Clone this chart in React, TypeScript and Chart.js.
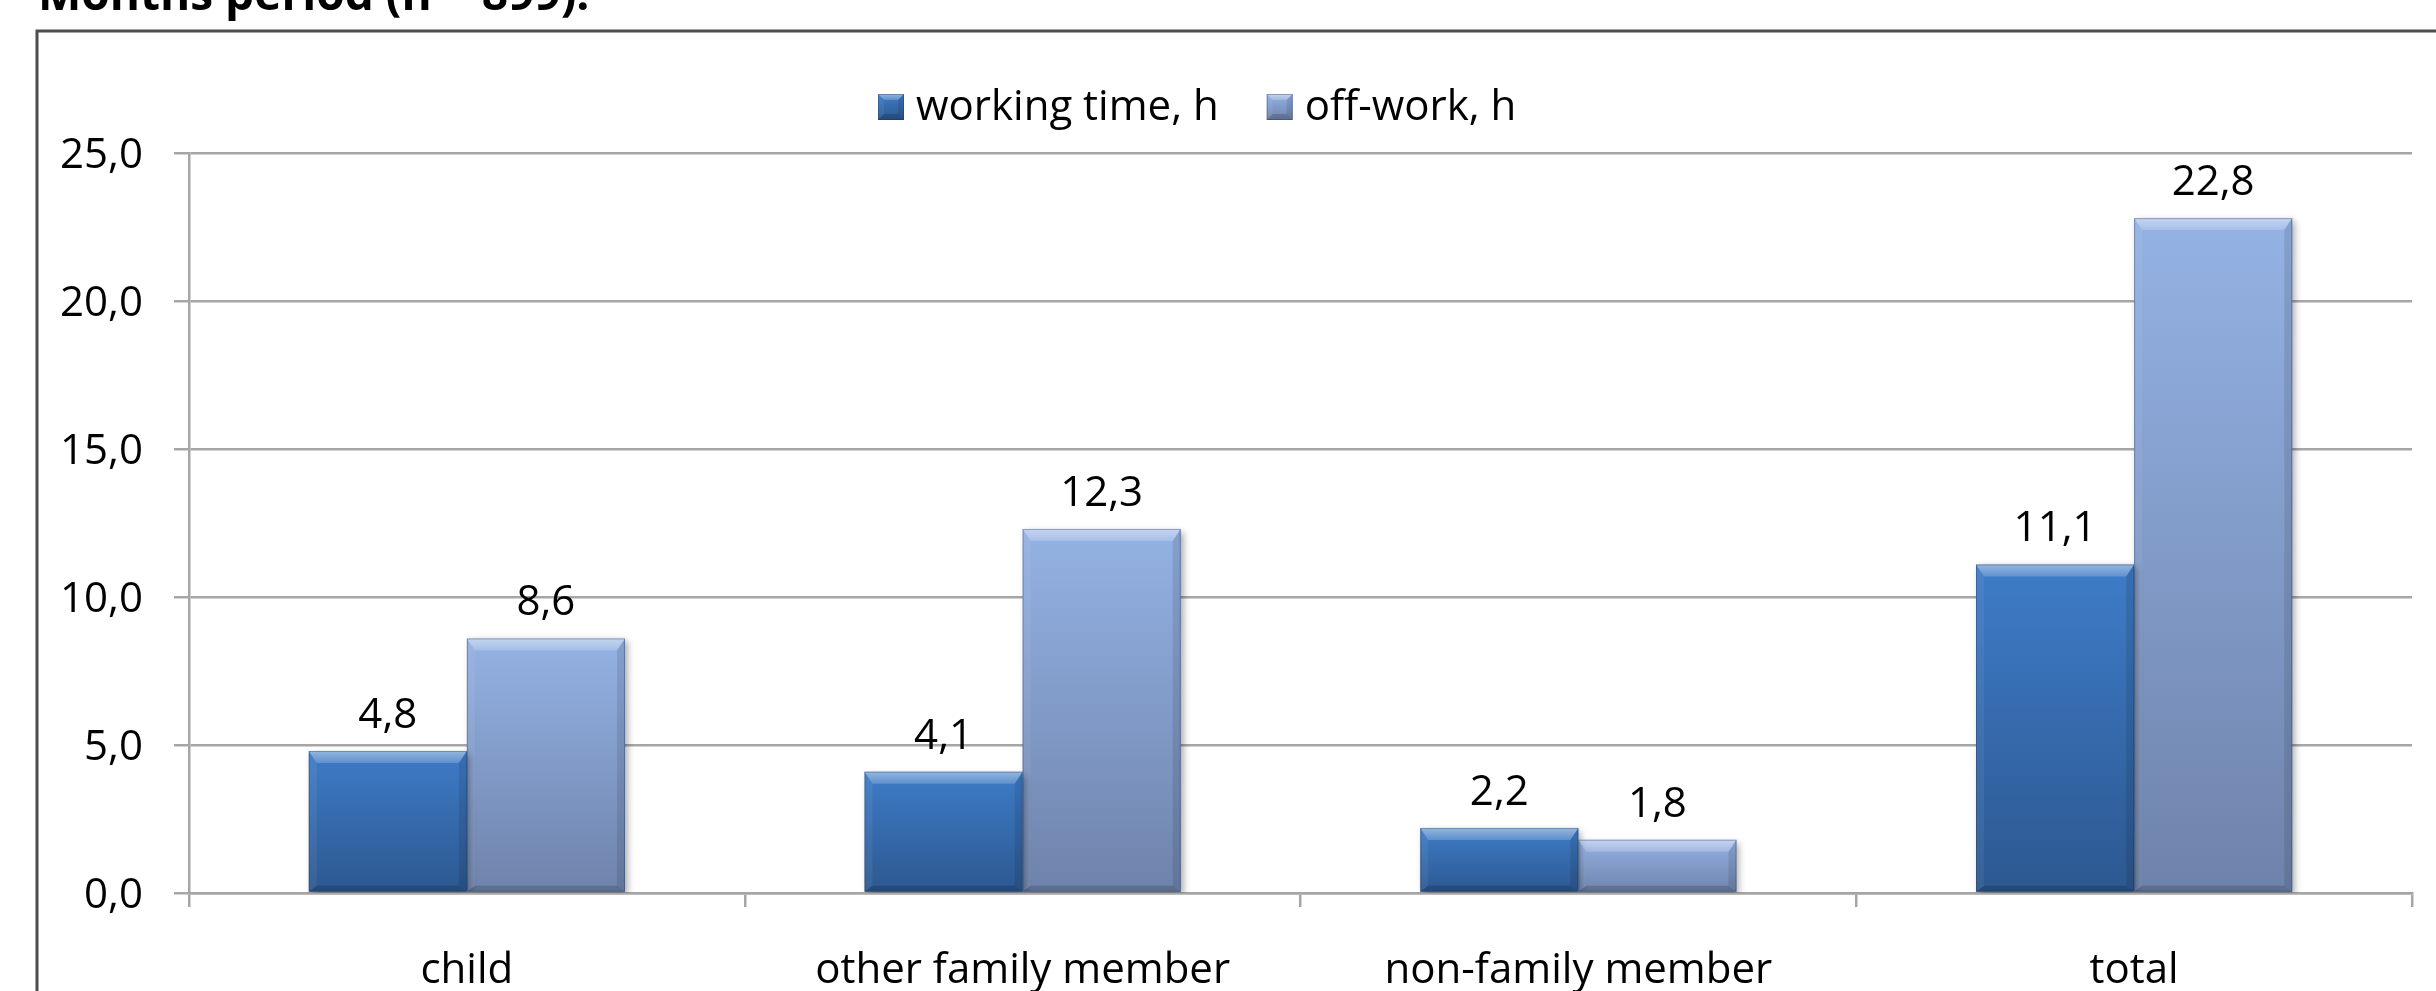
import React, { useEffect, useRef } from "react";
import { Chart, registerables } from "chart.js";

Chart.register(...registerables);

// ---- data ----
const categories = ["child", "other family member", "non-family member", "total"];
const workingTime = [4.8, 4.1, 2.2, 11.1];
const offWork = [8.6, 12.3, 1.8, 22.8];
const seriesNames = ["working time, h", "off-work, h"];
const yTickValues = [0, 5, 10, 15, 20, 25];
const titleText = "Months period (n = 899).";

// ---- styling ----
const W = 2436;
const H = 991;
const FONT = "'Open Sans', 'DejaVu Sans', sans-serif";
const GRID = "#a6a6a6";

const palettes = [
  { top: "#3e7cc8", bottom: "#2c5890" },
  { top: "#94b2e4", bottom: "#6e83ab" },
];

const fmt = (v: number) => v.toFixed(1).replace(".", ",");

type Pt = [number, number];
function poly(ctx: CanvasRenderingContext2D, pts: Pt[], fill: string | CanvasGradient) {
  ctx.beginPath();
  ctx.moveTo(pts[0][0], pts[0][1]);
  for (let i = 1; i < pts.length; i++) ctx.lineTo(pts[i][0], pts[i][1]);
  ctx.closePath();
  ctx.fillStyle = fill;
  ctx.fill();
}

// bevelled edges over a bar rectangle
function drawBevel(
  ctx: CanvasRenderingContext2D,
  l: number,
  t: number,
  r: number,
  b: number,
  sTop: number,
  sSide: number,
  sBottom: number
) {
  const h = b - t;
  const st = Math.min(sTop, h / 2);
  const sb = Math.min(sBottom, h / 3);
  const ss = Math.min(sSide, (r - l) / 2);
  const topGrad = ctx.createLinearGradient(0, t, 0, t + st);
  topGrad.addColorStop(0, "rgba(255,255,255,0.45)");
  topGrad.addColorStop(1, "rgba(255,255,255,0.18)");
  poly(ctx, [[l, t], [r, t], [r - ss, t + st], [l + ss, t + st]], topGrad);
  poly(ctx, [[l, t], [l + ss, t + st], [l + ss, b - sb], [l, b]], "rgba(255,255,255,0.06)");
  poly(ctx, [[r, t], [r - ss, t + st], [r - ss, b - sb], [r, b]], "rgba(0,0,0,0.10)");
  poly(ctx, [[l, b], [r, b], [r - ss, b - sb], [l + ss, b - sb]], "rgba(0,0,0,0.16)");
  ctx.strokeStyle = "rgba(30,50,90,0.35)";
  ctx.lineWidth = 1;
  ctx.strokeRect(l + 0.5, t + 0.5, r - l - 1, b - t - 1);
}

const barFill = (p: { top: string; bottom: string }) => (c: any) => {
  const chart = c.chart;
  const { chartArea, scales } = chart;
  if (!chartArea || !scales.y || c.type !== "data") return p.top;
  const v = c.raw as number;
  const y0 = scales.y.getPixelForValue(0);
  const y1 = scales.y.getPixelForValue(v);
  const g = chart.ctx.createLinearGradient(0, y1, 0, y0);
  g.addColorStop(0, p.top);
  g.addColorStop(1, p.bottom);
  return g;
};

// frame, title, bar shadows, bevels, value labels and legend
const decorations = {
  id: "decorations",
  beforeDraw(chart: any) {
    const ctx: CanvasRenderingContext2D = chart.ctx;
    ctx.save();
    ctx.fillStyle = "#ffffff";
    ctx.fillRect(0, 0, W, H);
    // outer frame (continues past the right and bottom edges)
    ctx.strokeStyle = "#4d4d4d";
    ctx.lineWidth = 3;
    ctx.beginPath();
    ctx.moveTo(37, H + 10);
    ctx.lineTo(37, 31);
    ctx.lineTo(W + 10, 31);
    ctx.stroke();
    // heading line above the frame
    ctx.fillStyle = "#000";
    ctx.font = `bold 46px ${FONT}`;
    ctx.textBaseline = "alphabetic";
    ctx.textAlign = "left";
    ctx.fillText(titleText, 38, 10);
    ctx.restore();
  },
  beforeDatasetsDraw(chart: any) {
    const ctx: CanvasRenderingContext2D = chart.ctx;
    ctx.save();
    ctx.shadowColor = "rgba(0,0,0,0.35)";
    ctx.shadowBlur = 7;
    ctx.shadowOffsetX = 3;
    ctx.shadowOffsetY = 3;
  },
  afterDatasetsDraw(chart: any) {
    const ctx: CanvasRenderingContext2D = chart.ctx;
    ctx.restore();
    ctx.save();
    chart.data.datasets.forEach((ds: any, di: number) => {
      const meta = chart.getDatasetMeta(di);
      meta.data.forEach((el: any, i: number) => {
        const { x, y, base, width } = el.getProps(["x", "y", "base", "width"], true);
        const l = x - width / 2;
        const r = x + width / 2;
        drawBevel(ctx, l, y, r, base, 12, 8, 6);
        ctx.fillStyle = "#000";
        ctx.font = `42px ${FONT}`;
        ctx.textAlign = "center";
        ctx.textBaseline = "alphabetic";
        ctx.fillText(fmt(ds.data[i] as number), x, y - 23);
      });
    });
    ctx.restore();
  },
  afterDraw(chart: any) {
    const ctx: CanvasRenderingContext2D = chart.ctx;
    ctx.save();
    const size = 26;
    const top = 94;
    let x = 878;
    ctx.font = `42px ${FONT}`;
    ctx.textBaseline = "alphabetic";
    ctx.textAlign = "left";
    seriesNames.forEach((name, i) => {
      const p = palettes[i];
      const g = ctx.createLinearGradient(0, top, 0, top + size);
      g.addColorStop(0, p.top);
      g.addColorStop(1, p.bottom);
      ctx.fillStyle = g;
      ctx.fillRect(x, top, size, size);
      drawBevel(ctx, x, top, x + size, top + size, 6, 6, 6);
      ctx.fillStyle = "#000";
      ctx.fillText(name, x + size + 12, top + 26);
      x += size + 12 + ctx.measureText(name).width + 48;
    });
    ctx.restore();
  },
};

export default function App() {
  const canvasRef = useRef<HTMLCanvasElement | null>(null);

  useEffect(() => {
    if (!canvasRef.current) return;
    const tickFont = { family: FONT, size: 42 };
    const chart = new Chart(canvasRef.current, {
      type: "bar",
      data: {
        labels: categories,
        datasets: [
          {
            label: seriesNames[0],
            data: workingTime,
            backgroundColor: barFill(palettes[0]),
            borderWidth: 0,
            categoryPercentage: 0.569,
            barPercentage: 1,
          },
          {
            label: seriesNames[1],
            data: offWork,
            backgroundColor: barFill(palettes[1]),
            borderWidth: 0,
            categoryPercentage: 0.569,
            barPercentage: 1,
          },
        ],
      },
      options: {
        responsive: false,
        animation: false,
        devicePixelRatio: 1,
        layout: { padding: { top: 153, right: 24, bottom: 0, left: 0 } },
        plugins: {
          legend: { display: false },
          title: { display: false },
          tooltip: { enabled: false },
        },
        scales: {
          x: {
            grid: {
              display: true,
              drawOnChartArea: false,
              drawTicks: true,
              tickLength: 14,
              color: GRID,
              lineWidth: 2.5,
              offset: true,
            },
            border: { display: true, color: GRID, width: 2.5 },
            ticks: {
              font: tickFont,
              color: "#000",
              padding: 39,
              maxRotation: 0,
              autoSkip: false,
            },
            afterFit: (s: any) => {
              s.height = 98;
            },
          },
          y: {
            min: 0,
            max: 25,
            afterBuildTicks: (s: any) => {
              s.ticks = yTickValues.map((v) => ({ value: v }));
            },
            grid: { color: GRID, lineWidth: 2.5, drawTicks: true, tickLength: 15 },
            border: { display: true, color: GRID, width: 2.5 },
            ticks: {
              font: tickFont,
              color: "#000",
              padding: 31,
              labelOffset: 3,
              callback: (v: any) => fmt(Number(v)),
            },
            afterFit: (s: any) => {
              s.width = 189;
            },
          },
        },
      },
      plugins: [decorations],
    });
    return () => chart.destroy();
  }, []);

  return (
    <div style={{ position: "absolute", left: 0, top: 0, width: W, height: H, background: "#fff" }}>
      <canvas ref={canvasRef} width={W} height={H} style={{ display: "block" }} />
    </div>
  );
}
